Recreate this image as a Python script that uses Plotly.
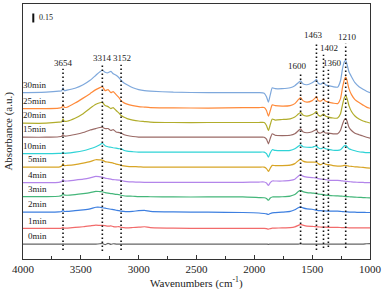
import plotly.graph_objects as go

# ---------------- data ----------------
wavenumbers = [4000, 3800, 3690, 3665, 3654, 3643, 3620, 3550, 3480, 3420,
               3370, 3335, 3314, 3290, 3265, 3240, 3220, 3195, 3170, 3152,
               3130, 3100, 3050, 3000, 2950, 2900, 2700, 2400, 2100, 1960,
               1915, 1895, 1878, 1862, 1845, 1820, 1760, 1690, 1650, 1620,
               1600, 1580, 1545, 1500, 1475, 1463, 1448, 1425, 1402, 1385,
               1360, 1320, 1280, 1255, 1238, 1222, 1210, 1198, 1182, 1160,
               1130, 1095, 1060, 1030, 1000]

labels = ["0min", "1min", "2min", "3min", "4min", "5min",
          "10min", "15min", "20min", "25min", "30min"]

# vertical stacking offsets (absorbance units)
offsets = [0.25, 0.512, 0.783, 1.045, 1.278, 1.538, 1.762, 2.038, 2.272, 2.517, 2.783]

a0 = [0, 0, 0, 0, 0.003, 0, 0, 0, 0, 0,
      0, 0.005, 0.01, -0.008, 0.012, -0.005, 0.005, 0, 0, 0,
      0, 0, 0, 0, 0, 0, 0, 0, 0, 0,
      0, 0, -0.005, 0, 0, 0, 0, 0, 0, 0,
      0.003, 0, 0, 0, 0, 0, 0, 0, 0, 0,
      0, 0, 0, 0, 0, 0, 0, 0, 0, 0,
      0, 0, 0, 0.005, 0.008]
a1 = [0, 0, 0, 0.005, 0.017, 0.005, 0.005, 0.017, 0.028, 0.042,
      0.055, 0.05, 0.05, 0.045, 0.037, 0.042, 0.03, 0.025, 0.03, 0.017,
      0.013, 0.01, 0.015, 0.02, 0.028, 0.013, 0.005, 0, 0, 0,
      0, -0.005, -0.013, -0.003, 0.005, 0.005, 0.008, 0.013, 0.025, 0.05,
      0.067, 0.055, 0.038, 0.033, 0.03, 0.028, 0.025, 0.023, 0.022, 0.02,
      0.018, 0.017, 0.017, 0.015, 0.013, 0.013, 0.012, 0.012, 0.01, 0.01,
      0.01, 0.01, 0.01, 0.01, 0.01]
a2 = [0, 0, 0.005, 0.013, 0.033, 0.013, 0.013, 0.025, 0.038, 0.055,
      0.083, 0.083, 0.075, 0.067, 0.058, 0.05, 0.042, 0.033, 0.025, 0.017,
      0.013, 0.01, 0.015, 0.025, 0.03, 0.015, 0.005, 0, -0.005, -0.013,
      -0.022, -0.027, -0.038, -0.022, -0.01, -0.008, 0, 0.013, 0.042, 0.075,
      0.088, 0.072, 0.055, 0.05, 0.038, 0.033, 0.028, 0.025, 0.022, 0.02,
      0.017, 0.017, 0.017, 0.013, 0.01, 0.008, 0.007, 0.005, 0.003, 0,
      0, -0.003, -0.003, -0.005, -0.005]
a3 = [0, 0, 0.005, 0.017, 0.05, 0.025, 0.022, 0.033, 0.05, 0.067,
      0.088, 0.083, 0.08, 0.067, 0.058, 0.05, 0.045, 0.038, 0.033, 0.022,
      0.013, 0.008, 0.005, 0, 0, -0.003, -0.007, -0.007, -0.007, -0.017,
      -0.02, -0.033, -0.062, -0.025, -0.007, -0.007, -0.003, 0.008, 0.033, 0.083,
      0.105, 0.083, 0.067, 0.058, 0.053, 0.05, 0.042, 0.037, 0.033, 0.025,
      0.02, 0.013, 0.01, 0.008, 0.005, 0.003, 0, 0, -0.003, -0.007,
      -0.01, -0.013, -0.017, -0.02, -0.023]
a4 = [0, 0, 0.005, 0.017, 0.05, 0.027, 0.027, 0.042, 0.058, 0.08,
      0.105, 0.097, 0.092, 0.075, 0.067, 0.058, 0.05, 0.047, 0.042, 0.038,
      0.025, 0.017, 0.012, 0.008, 0.005, 0.005, 0.005, 0.005, 0.005, 0.01,
      0.01, -0.008, -0.045, 0, 0.027, 0.027, 0.027, 0.037, 0.058, 0.108,
      0.133, 0.108, 0.093, 0.083, 0.08, 0.077, 0.067, 0.058, 0.055, 0.05,
      0.043, 0.038, 0.038, 0.033, 0.028, 0.025, 0.022, 0.02, 0.017, 0.013,
      0.008, 0.005, 0.003, 0, 0]
a5 = [0, 0, 0, 0.017, 0.057, 0.025, 0.028, 0.042, 0.067, 0.092,
      0.123, 0.12, 0.117, 0.092, 0.083, 0.075, 0.067, 0.05, 0.042, 0.028,
      0.02, 0.013, 0.008, 0.005, 0, 0, 0, 0, 0, 0,
      0, -0.025, -0.072, -0.017, 0.028, 0.025, 0.025, 0.033, 0.058, 0.108,
      0.128, 0.1, 0.083, 0.083, 0.083, 0.083, 0.058, 0.04, 0.067, 0.05,
      0.04, 0.025, 0.017, 0.017, 0.02, 0.028, 0.028, 0.022, 0.017, 0.012,
      0.005, 0, -0.005, -0.012, -0.017]
a10 = [0, 0, 0.005, 0.008, 0.027, 0.008, 0.008, 0.025, 0.05, 0.083,
       0.117, 0.15, 0.175, 0.133, 0.117, 0.108, 0.1, 0.092, 0.083, 0.083,
       0.058, 0.042, 0.033, 0.027, 0.027, 0.027, 0.027, 0.027, 0.027, 0.027,
       0.027, 0, -0.057, 0.017, 0.067, 0.055, 0.05, 0.055, 0.083, 0.125,
       0.15, 0.117, 0.108, 0.108, 0.125, 0.127, 0.1, 0.083, 0.1, 0.083,
       0.072, 0.058, 0.055, 0.067, 0.1, 0.133, 0.138, 0.117, 0.083, 0.067,
       0.05, 0.033, 0.025, 0.017, 0.017]
a15 = [0, 0, 0.008, 0.017, 0.045, 0.02, 0.02, 0.045, 0.078, 0.12,
       0.145, 0.162, 0.167, 0.145, 0.145, 0.112, 0.128, 0.087, 0.078, 0.07,
       0.045, 0.028, 0.012, 0.003, 0, 0, 0, 0, 0, 0,
       0, -0.033, -0.11, -0.017, 0.057, 0.033, 0.028, 0.033, 0.058, 0.108,
       0.14, 0.092, 0.075, 0.092, 0.117, 0.128, 0.078, 0.07, 0.095, 0.07,
       0.067, 0.057, 0.057, 0.117, 0.217, 0.292, 0.312, 0.267, 0.167, 0.112,
       0.067, 0.042, 0.02, 0, -0.017]
a20 = [0, 0, 0.017, 0.025, 0.073, 0.033, 0.033, 0.083, 0.158, 0.25,
       0.317, 0.342, 0.35, 0.295, 0.278, 0.245, 0.262, 0.212, 0.17, 0.128,
       0.103, 0.078, 0.053, 0.037, 0.028, 0.02, 0.012, 0.012, 0.012, 0.012,
       0.012, -0.038, -0.122, -0.022, 0.07, 0.053, 0.062, 0.073, 0.103, 0.153,
       0.183, 0.137, 0.12, 0.145, 0.178, 0.2, 0.137, 0.12, 0.153, 0.12,
       0.103, 0.087, 0.087, 0.158, 0.308, 0.425, 0.462, 0.412, 0.295, 0.195,
       0.12, 0.07, 0.037, 0.02, 0.003]
a25 = [0, 0, 0.008, 0.017, 0.067, 0.022, 0.022, 0.092, 0.175, 0.25,
       0.317, 0.35, 0.367, 0.3, 0.317, 0.267, 0.283, 0.233, 0.183, 0.133,
       0.1, 0.075, 0.05, 0.033, 0.025, 0.017, 0.012, 0.008, 0.017, 0.017,
       0.017, -0.033, -0.128, -0.033, 0.062, 0.05, 0.042, 0.05, 0.083, 0.15,
       0.183, 0.133, 0.108, 0.133, 0.175, 0.2, 0.133, 0.125, 0.158, 0.125,
       0.108, 0.092, 0.083, 0.167, 0.35, 0.483, 0.525, 0.467, 0.333, 0.233,
       0.15, 0.1, 0.058, 0.025, 0.005]
a30 = [0, 0.008, 0.025, 0.033, 0.083, 0.033, 0.042, 0.075, 0.133, 0.208,
       0.292, 0.35, 0.375, 0.342, 0.333, 0.358, 0.317, 0.292, 0.25, 0.208,
       0.167, 0.133, 0.083, 0.05, 0.033, 0.025, 0.008, 0, 0, 0,
       -0.008, -0.067, -0.158, -0.033, 0.083, 0.067, 0.067, 0.083, 0.117, 0.167,
       0.2, 0.15, 0.133, 0.167, 0.2, 0.225, 0.158, 0.142, 0.175, 0.133,
       0.117, 0.1, 0.092, 0.2, 0.4, 0.517, 0.542, 0.467, 0.35, 0.267,
       0.167, 0.1, 0.058, 0.025, 0]

series = [a0, a1, a2, a3, a4, a5, a10, a15, a20, a25, a30]

peak_positions = [3654, 3314, 3152, 1600, 1463, 1402, 1360, 1210]
peak_texts = ["3654", "3314", "3152", "1600", "1463", "1402", "1360", "1210"]

scale_bar_value = 0.15

# ---------------- styling ----------------
colors = ["#666666", "#f26b6b", "#3d7fe0", "#44b67a", "#b385ea", "#d8a526",
          "#2fd3d6", "#9a6a66", "#b1ad2c", "#ff8a3a", "#7ea8dc"]
label_x = 3772
label_dy = 0.13
line_top = [3.183, 3.25, 3.25, 3.10, 3.633, 3.417, 3.167, 3.60]
line_bottom = [0.15, 0.133, 0.15, 0.25, 0.15, 0.183, 0.20, 0.183]
text_x = [3654, 3314, 3140, 1623, 1489, 1355, 1326, 1198]
text_y = [3.283, 3.367, 3.367, 3.233, 3.75, 3.533, 3.283, 3.717]

FONT = "Liberation Serif"

fig = go.Figure()
for lab, vals, off, col in zip(labels, series, offsets, colors):
    fig.add_trace(go.Scatter(
        x=wavenumbers, y=[v + off for v in vals], mode="lines",
        line=dict(color=col, width=1.2, shape="spline", smoothing=0.5),
        name=lab, showlegend=False, hoverinfo="skip"))
    fig.add_annotation(x=label_x, y=off + label_dy, text=lab, showarrow=False,
                       xanchor="right", yanchor="middle",
                       font=dict(family=FONT, size=9, color="#222"))

for wn, top, bot in zip(peak_positions, line_top, line_bottom):
    fig.add_shape(type="line", x0=wn, x1=wn, y0=bot, y1=top, xref="x", yref="y",
                  line=dict(color="#111", width=1.6, dash="1.5px,2.5px"))

for t, tx, ty in zip(peak_texts, text_x, text_y):
    fig.add_annotation(x=tx, y=ty, text=t, showarrow=False, xanchor="center",
                       yanchor="middle", font=dict(family=FONT, size=9, color="#222"))

# scale bar
fig.add_shape(type="line", x0=3911, x1=3911, y0=3.958, y1=3.958 + scale_bar_value,
              xref="x", yref="y", line=dict(color="#111", width=2))
fig.add_annotation(x=3880, y=3.958 + scale_bar_value / 2, text=f"{scale_bar_value:.2f}",
                   showarrow=False, xanchor="left", yanchor="middle",
                   font=dict(family=FONT, size=8, color="#222"))

fig.add_annotation(xref="paper", yref="paper", x=-0.043, y=0.5, text="Absorbance (a.u.)",
                   textangle=-90, showarrow=False, xanchor="center", yanchor="middle",
                   font=dict(family=FONT, size=11, color="#222"))
fig.add_annotation(xref="paper", yref="paper", x=0.5, y=-0.094,
                   text="Wavenumbers (cm<sup>-1</sup>)", showarrow=False,
                   xanchor="center", yanchor="middle",
                   font=dict(family=FONT, size=11, color="#222"))

fig.update_layout(
    width=385, height=289,
    margin=dict(l=23, r=13, t=3, b=30),
    paper_bgcolor="white", plot_bgcolor="white",
    xaxis=dict(range=[4000, 1000], showgrid=False, zeroline=False,
               showline=True, mirror=True, linecolor="#333", linewidth=1.3,
               ticks="inside", ticklen=4, tickwidth=1.2, tickcolor="#333",
               tick0=1000, dtick=500,
               minor=dict(ticks="inside", ticklen=2.5, dtick=250, tick0=1000,
                          tickcolor="#333", tickwidth=1),
               tickfont=dict(family=FONT, size=11, color="#222")),
    yaxis=dict(range=[0, 4.267], showgrid=False, zeroline=False,
               showline=True, mirror=True, linecolor="#333", linewidth=1.3,
               ticks="", showticklabels=False),
)

fig.write_html(
    "out.html",
    config={"displayModeBar": False},
    post_script="document.body.style.margin='0';document.body.style.overflow='hidden';",
)
